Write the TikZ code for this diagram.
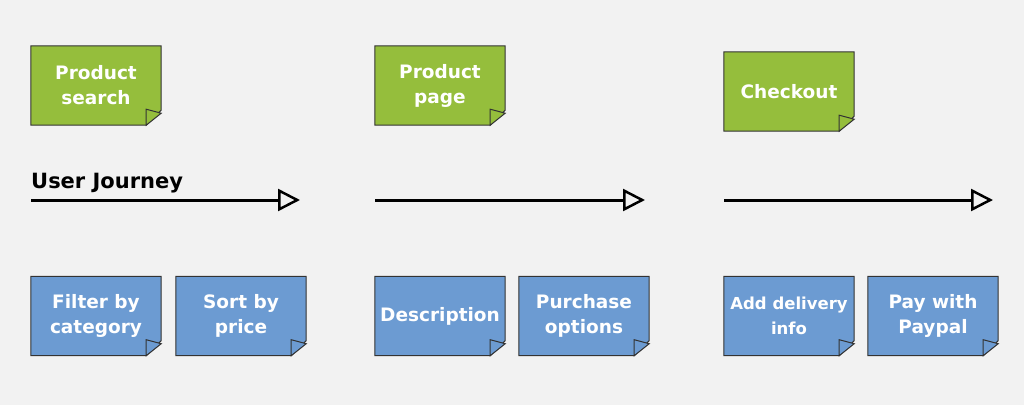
\documentclass[tikz,border=0pt]{standalone}
\usepackage{fontspec}
\setmainfont{DejaVu Sans}
\definecolor{bg}{HTML}{F2F2F2}
\definecolor{leaf}{HTML}{95BE3C}
\definecolor{sky}{HTML}{6C9BD2}
\tikzset{
  note/.style = {minimum width=130pt, minimum height=79pt, inner sep=0pt,
    align=center, text=white, font=\bfseries\fontsize{18.5}{25}\selectfont},
  journey/.style = {line width=3pt, -{Triangle[open, length=22pt, width=22pt, line width=2.5pt]}}
}
\usetikzlibrary{arrows.meta}
% folded note drawn around a named node
\newcommand{\stickynote}[4]{%
  \node[note] (#1) at (#2) {#4};
  \draw[fill=#3, draw=black!80, line width=1pt]
    (#1.north west) -- (#1.north east) -- ([yshift=15pt]#1.south east)
    -- ([xshift=-15pt]#1.south east) -- (#1.south west) -- cycle;
  \draw[fill=#3, draw=black!80, line width=1pt]
    ([xshift=-15pt]#1.south east) -- ([xshift=-15pt, yshift=16pt]#1.south east)
    -- ([yshift=12pt]#1.south east) -- cycle;
  \node[note] at (#1) {#4};
}
\begin{document}
\begin{tikzpicture}[x=1pt, y=-1pt]
  \fill[bg] (0,0) rectangle (1024,405);
  \useasboundingbox (0,0) rectangle (1024,405);

  \stickynote{search}{96,85.5}{leaf}{Product\\search}
  \stickynote{page}{440,85.5}{leaf}{Product\\page}
  \stickynote{checkout}{789,91.5}{leaf}{Checkout}

  \stickynote{filter}{96,316}{sky}{Filter by\\category}
  \stickynote{sort}{241,316}{sky}{Sort by\\price}
  \stickynote{descr}{440,316}{sky}{Description}
  \stickynote{options}{584,316}{sky}{Purchase\\options}
  \stickynote{delivery}{789,316}{sky}{\fontsize{16.5}{25}\selectfont Add delivery\\\fontsize{16.5}{25}\selectfont info}
  \stickynote{paypal}{933,316}{sky}{Pay with\\Paypal}

  \node[anchor=base west, inner sep=0pt, font=\bfseries\fontsize{21}{25}\selectfont] (title) at (31,188) {User Journey};

  \coordinate (a1) at (31,200);   \coordinate (b1) at (300,200);
  \coordinate (a2) at (375,200);  \coordinate (b2) at (645,200);
  \coordinate (a3) at (724,200);  \coordinate (b3) at (993,200);
  \draw[journey] (a1) -- (b1);
  \draw[journey] (a2) -- (b2);
  \draw[journey] (a3) -- (b3);
\end{tikzpicture}
\end{document}
